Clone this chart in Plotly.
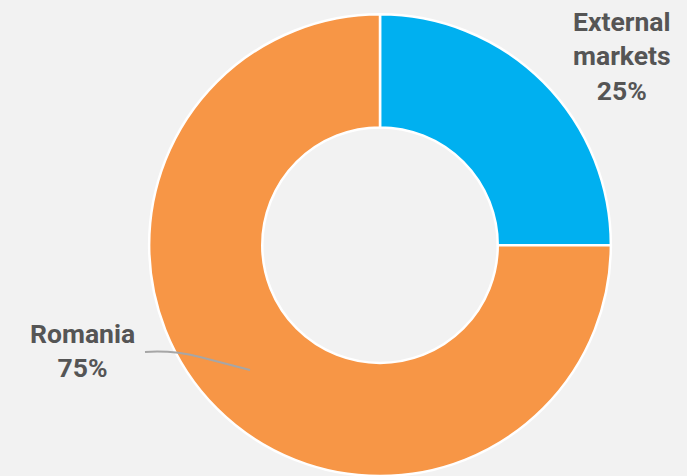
import plotly.graph_objects as go

# Market split
markets = ["External markets", "Romania"]
shares = [25, 75]
slice_colors = ["#00B0F0", "#F79646"]

W, H = 687, 476
BG = "#F2F2F2"
TEXT = "#555555"


def px(x, y):
    """Convert pixel position to paper coordinates."""
    return x / W, 1 - y / H


fig = go.Figure(
    go.Pie(
        labels=markets,
        values=shares,
        hole=0.51,
        sort=False,
        direction="clockwise",
        rotation=0,
        marker=dict(colors=slice_colors, line=dict(color="white", width=2.5)),
        textinfo="none",
        hoverinfo="label+percent",
        showlegend=False,
        domain=dict(x=[148 / W, 612 / W], y=[0.0, 0.97]),
    )
)

# Slice labels
ext_x, ext_y = px(622, 56)
rom_x, rom_y = px(82, 350)
fig.add_annotation(
    x=ext_x, y=ext_y, xref="paper", yref="paper",
    xanchor="center", yanchor="middle",
    text=f"<b>External<br>markets<br>{shares[0]}%</b>",
    showarrow=False, align="center",
    font=dict(family="Roboto", size=26.5, color=TEXT),
)
fig.add_annotation(
    x=rom_x, y=rom_y, xref="paper", yref="paper",
    xanchor="center", yanchor="middle",
    text=f"<b>{markets[1]}<br>{shares[1]}%</b>",
    showarrow=False, align="center",
    font=dict(family="Roboto", size=26.5, color=TEXT),
)

# Leader line for the Romania label
p0 = px(145, 352)
p1 = px(172, 350)
p2 = px(200, 357)
p3 = px(250, 370)
fig.add_shape(
    type="path", xref="paper", yref="paper",
    path=f"M {p0[0]},{p0[1]} Q {p1[0]},{p1[1]} {p2[0]},{p2[1]} L {p3[0]},{p3[1]}",
    line=dict(color="#A6A6A6", width=2),
)

fig.update_layout(
    width=W, height=H,
    margin=dict(l=0, r=0, t=0, b=0),
    paper_bgcolor=BG, plot_bgcolor=BG,
)

fig.write_html("out.html")
